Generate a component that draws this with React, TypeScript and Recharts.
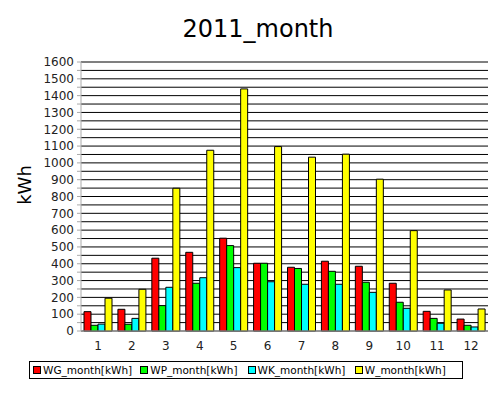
import React from "react";
import { BarChart, Bar, XAxis, YAxis, CartesianGrid } from "recharts";

const months = ["1", "2", "3", "4", "5", "6", "7", "8", "9", "10", "11", "12"];
const wg = [115, 129, 433, 468, 552, 403, 379, 415, 385, 284, 117, 71];
const wp = [34, 40, 151, 284, 508, 403, 372, 355, 290, 171, 75, 34];
const wk = [41, 75, 260, 317, 377, 293, 278, 278, 230, 135, 46, 24];
const w = [195, 248, 849, 1075, 1440, 1097, 1034, 1052, 903, 597, 244, 131];
const yTicks = Array.from({ length: 33 }, (_, i) => i * 50);

const seriesNames = ["WG_month[kWh]", "WP_month[kWh]", "WK_month[kWh]", "W_month[kWh]"];
const colors = ["#ff0000", "#00ff00", "#00ffff", "#ffff00"];

const data = months.map((m, i) => ({ m, wg: wg[i], wp: wp[i], wk: wk[i], w: w[i] }));

const font = "'DejaVu Sans', sans-serif";

const LegendBox = () => (
  <div
    style={{
      position: "absolute",
      left: 29,
      top: 361,
      width: 434,
      height: 18,
      border: "1px solid #000",
      display: "flex",
      alignItems: "center",
      fontFamily: font,
      fontSize: 10.5,
      color: "#000",
      boxSizing: "border-box",
      paddingLeft: 3,
      whiteSpace: "nowrap",
    }}
  >
    {seriesNames.map((n, i) => (
      <span key={n} style={{ display: "flex", alignItems: "center", width: 109 }}>
        <span
          style={{
            display: "inline-block",
            width: 6,
            height: 6,
            background: colors[i],
            border: "1px solid #000",
            marginRight: 2,
          }}
        />
        <span>{n}</span>
      </span>
    ))}
  </div>
);

export default function App() {
  return (
    <div style={{ position: "absolute", left: 0, top: 0, width: 500, height: 397, background: "#fff" }}>
      <div
        style={{
          position: "absolute",
          left: 0,
          top: 15,
          width: 516,
          textAlign: "center",
          fontFamily: font,
          fontSize: 24,
          color: "#000",
        }}
      >
        2011_month
      </div>
      <div
        style={{
          position: "absolute",
          left: 24,
          top: 185,
          transform: "translate(-50%, -50%) rotate(-90deg)",
          fontFamily: font,
          fontSize: 18,
          color: "#000",
        }}
      >
        kWh
      </div>
      <BarChart
        width={500}
        height={397}
        data={data}
        margin={{ top: 62, right: 12, bottom: 46, left: 0 }}
        barGap={0}
        barCategoryGap={3}
      >
        <CartesianGrid vertical={false} stroke="#000" strokeWidth={1} />
        <XAxis
          dataKey="m"
          height={20}
          tickLine={false}
          axisLine={{ stroke: "#aaa" }}
          tick={{ fontFamily: font, fontSize: 12, fill: "#222" }}
          tickMargin={4}
        />
        <YAxis
          width={81}
          domain={[0, 1600]}
          ticks={yTicks}
          interval={0}
          tickFormatter={(v: number) => (v % 100 === 0 ? String(v) : "")}
          tickLine={{ stroke: "#aaa" }}
          tickSize={4}
          tickMargin={3}
          axisLine={{ stroke: "#aaa" }}
          tick={{ fontFamily: font, fontSize: 12, fill: "#222" }}
        />
        <Bar dataKey="wg" name={seriesNames[0]} fill={colors[0]} stroke="#000" strokeWidth={1} isAnimationActive={false} />
        <Bar dataKey="wp" name={seriesNames[1]} fill={colors[1]} stroke="#000" strokeWidth={1} isAnimationActive={false} />
        <Bar dataKey="wk" name={seriesNames[2]} fill={colors[2]} stroke="#000" strokeWidth={1} isAnimationActive={false} />
        <Bar dataKey="w" name={seriesNames[3]} fill={colors[3]} stroke="#000" strokeWidth={1} isAnimationActive={false} />
      </BarChart>
      <LegendBox />
    </div>
  );
}
